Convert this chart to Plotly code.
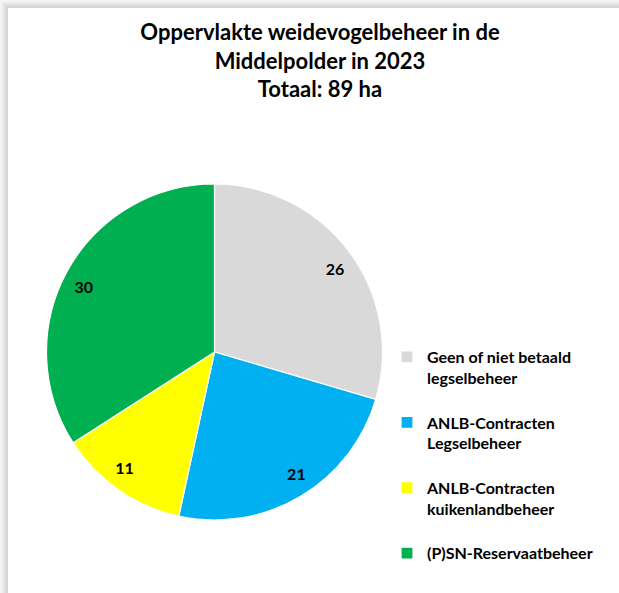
import plotly.graph_objects as go

W, H = 619, 593

categories = [
    "Geen of niet betaald<br>legselbeheer<br> ",
    "ANLB-Contracten<br>Legselbeheer<br> ",
    "ANLB-Contracten<br>kuikenlandbeheer<br> ",
    "(P)SN-Reservaatbeheer",
]
values = [26, 21, 11, 30]
colors = ["#D9D9D9", "#00B0F0", "#FFFF00", "#00B050"]
title_text = "Oppervlakte weidevogelbeheer in de<br>Middelpolder in 2023<br>Totaal: 89 ha"

FONT = "Lato, 'Open Sans', sans-serif"

# pie geometry (pixels)
cx, cy, r = 214.5, 352, 168
r_lab = 133


def dom(rad):
    return dict(
        x=[(cx - rad) / W, (cx + rad) / W],
        y=[(H - cy - rad) / H, (H - cy + rad) / H],
    )


fig = go.Figure()
fig.add_trace(go.Pie(
    labels=categories, values=values, sort=False, direction="clockwise",
    rotation=0, marker=dict(colors=colors, line=dict(color="white", width=1.2)),
    textinfo="none", domain=dom(r), hoverinfo="label+value",
))
# transparent overlay pie used only to place value labels near the outer edge
fig.add_trace(go.Pie(
    labels=categories, values=values, sort=False, direction="clockwise",
    rotation=0, marker=dict(colors=["rgba(0,0,0,0)"] * 4, line=dict(width=0)),
    textinfo="value", textposition="outside",
    outsidetextfont=dict(family=FONT, size=16, color="black", weight="bold"),
    domain=dom(r_lab), showlegend=False, hoverinfo="skip",
))

shapes = []
# shadow frame on top and left
greys = ["#f4f4f4", "#ebebeb", "#e0e0e0", "#d6d6d6"]
for i, g in enumerate(greys):
    a, b = 2 * i, 2 * i + 2
    shapes.append(dict(type="rect", xref="paper", yref="paper",
                       x0=a / W, x1=b / W, y0=0, y1=1 - a / H,
                       fillcolor=g, line=dict(width=0), layer="below"))
    shapes.append(dict(type="rect", xref="paper", yref="paper",
                       x0=a / W, x1=1, y0=1 - b / H, y1=1 - a / H,
                       fillcolor=g, line=dict(width=0), layer="below"))

fig.update_layout(
    width=W, height=H,
    margin=dict(l=0, r=0, t=0, b=0),
    paper_bgcolor="white", plot_bgcolor="white",
    shapes=shapes,
    title=dict(text=title_text, x=320 / W, xanchor="center", xref="paper",
               y=1 - 40 / H, yanchor="top", yref="paper",
               font=dict(family=FONT, size=22, color="black", weight="bold")),
    legend=dict(x=387 / W, xanchor="left", y=1 - 340 / H, yanchor="top",
                valign="top", font=dict(family=FONT, size=16, color="black", weight="bold"),
                bgcolor="rgba(0,0,0,0)"),
)

fig.write_html("out.html", config={"displayModeBar": False},
               post_script="document.body.style.margin='0';document.body.style.overflow='hidden';")
